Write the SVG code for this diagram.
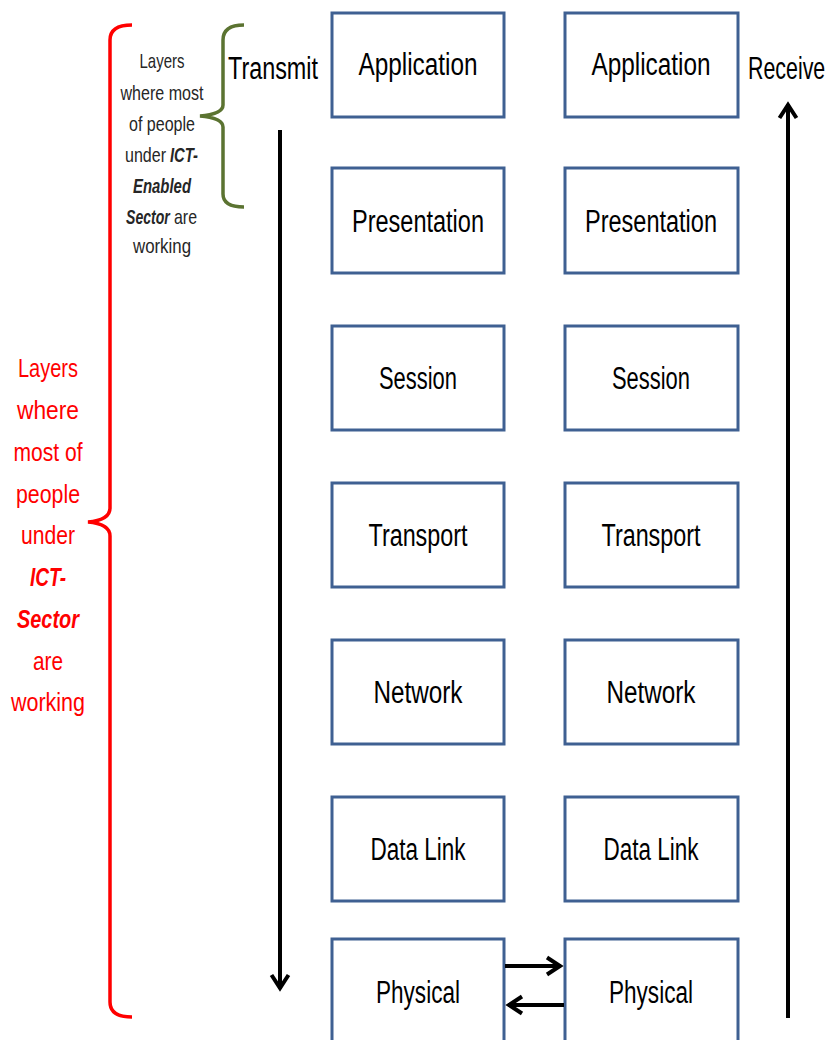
<svg xmlns="http://www.w3.org/2000/svg" width="830" height="1040" viewBox="0 0 830 1040">
<style>
.box{fill:#fff;stroke:#3F6092;stroke-width:3}
.lbl{font-family:"Liberation Sans",Arial,sans-serif;font-size:31px;fill:#000;text-anchor:middle}
.side{font-family:"Liberation Sans",Arial,sans-serif;font-size:31px;fill:#000}
.g{font-family:"Liberation Sans",Arial,sans-serif;font-size:21px;fill:#262626;text-anchor:middle}
.gs{font-family:"Liberation Sans",Arial,sans-serif;font-size:21px;fill:#262626}
.r{font-family:"Liberation Sans",Arial,sans-serif;font-size:25px;fill:#FF0000;text-anchor:middle}
.bi{font-weight:bold;font-style:italic}
.arr{stroke:#000;stroke-width:4;fill:none}
</style>
<defs>
<marker id="ah" markerUnits="userSpaceOnUse" markerWidth="30" markerHeight="30" viewBox="-22 -15 30 30" refX="0" refY="0" orient="auto" overflow="visible">
<path d="M-14,-8.5 L-1,0 L-14,8.5" fill="none" stroke="#000" stroke-width="4" stroke-linejoin="miter"/>
</marker>
</defs>

<g id="brackets">
<path d="M132,25 Q110,25 110,40 L110,508 Q110,520 88,522 Q110,524 110,536 L110,1002 Q110,1017 132,1017" fill="none" stroke="#FF0000" stroke-width="3.5"/>
<path d="M244,25 Q223,25 223,40 L223,105 Q223,114 200,116 Q223,118 223,127 L223,194 Q223,207 244,207" fill="none" stroke="#5B7331" stroke-width="3.5"/>
</g>

<g id="label-ict-enabled">
<text class="g" x="162" y="68" textLength="45" lengthAdjust="spacingAndGlyphs">Layers</text>
<text class="g" x="162" y="100" textLength="83" lengthAdjust="spacingAndGlyphs">where most</text>
<text class="g" x="162" y="131" textLength="66" lengthAdjust="spacingAndGlyphs">of people</text>
<text class="gs" transform="translate(125,162) scale(0.764,1)">under</text>
<text class="gs bi" x="170" y="162" textLength="28" lengthAdjust="spacingAndGlyphs">ICT-</text>
<text class="g bi" x="162" y="193" textLength="58" lengthAdjust="spacingAndGlyphs">Enabled</text>
<text class="gs bi" transform="translate(126,224) scale(0.67,1)">Sector</text>
<text class="gs" x="174" y="224" textLength="23" lengthAdjust="spacingAndGlyphs">are</text>
<text class="g" x="162" y="253" textLength="58" lengthAdjust="spacingAndGlyphs">working</text>
</g>

<g id="label-ict-sector">
<text class="r" x="48" y="377" textLength="60" lengthAdjust="spacingAndGlyphs">Layers</text>
<text class="r" x="48" y="419" textLength="62" lengthAdjust="spacingAndGlyphs">where</text>
<text class="r" x="48" y="461" textLength="69" lengthAdjust="spacingAndGlyphs">most of</text>
<text class="r" x="48" y="503" textLength="64" lengthAdjust="spacingAndGlyphs">people</text>
<text class="r" x="48" y="544" textLength="54" lengthAdjust="spacingAndGlyphs">under</text>
<text class="r bi" x="48" y="586" textLength="36" lengthAdjust="spacingAndGlyphs">ICT-</text>
<text class="r bi" x="48" y="628" textLength="62" lengthAdjust="spacingAndGlyphs">Sector</text>
<text class="r" x="48" y="670" textLength="30" lengthAdjust="spacingAndGlyphs">are</text>
<text class="r" x="48" y="711" textLength="74" lengthAdjust="spacingAndGlyphs">working</text>
</g>

<g id="transmit"><text class="side" x="228" y="79" textLength="90" lengthAdjust="spacingAndGlyphs">Transmit</text></g>
<g id="receive"><text class="side" transform="translate(748,79) scale(0.69,1)">Receive</text></g>

<g id="tx-application"><rect class="box" x="332" y="13" width="172" height="104"/><text class="lbl" x="418" y="75" textLength="119" lengthAdjust="spacingAndGlyphs">Application</text></g>
<g id="tx-presentation"><rect class="box" x="332" y="168" width="172" height="105"/><text class="lbl" x="418" y="232" textLength="132" lengthAdjust="spacingAndGlyphs">Presentation</text></g>
<g id="tx-session"><rect class="box" x="332" y="326" width="172" height="104"/><text class="lbl" x="418" y="389" textLength="78" lengthAdjust="spacingAndGlyphs">Session</text></g>
<g id="tx-transport"><rect class="box" x="332" y="483" width="172" height="104"/><text class="lbl" x="418" y="546" textLength="99" lengthAdjust="spacingAndGlyphs">Transport</text></g>
<g id="tx-network"><rect class="box" x="332" y="640" width="172" height="104"/><text class="lbl" x="418" y="703" textLength="89" lengthAdjust="spacingAndGlyphs">Network</text></g>
<g id="tx-datalink"><rect class="box" x="332" y="797" width="172" height="104"/><text class="lbl" x="418" y="860" textLength="95" lengthAdjust="spacingAndGlyphs">Data Link</text></g>
<g id="tx-physical"><rect class="box" x="332" y="939" width="172" height="110"/><text class="lbl" x="418" y="1003" textLength="84" lengthAdjust="spacingAndGlyphs">Physical</text></g>

<g id="rx-application"><rect class="box" x="565" y="13" width="173" height="104"/><text class="lbl" x="651" y="75" textLength="119" lengthAdjust="spacingAndGlyphs">Application</text></g>
<g id="rx-presentation"><rect class="box" x="565" y="168" width="173" height="105"/><text class="lbl" x="651" y="232" textLength="132" lengthAdjust="spacingAndGlyphs">Presentation</text></g>
<g id="rx-session"><rect class="box" x="565" y="326" width="173" height="104"/><text class="lbl" x="651" y="389" textLength="78" lengthAdjust="spacingAndGlyphs">Session</text></g>
<g id="rx-transport"><rect class="box" x="565" y="483" width="173" height="104"/><text class="lbl" x="651" y="546" textLength="99" lengthAdjust="spacingAndGlyphs">Transport</text></g>
<g id="rx-network"><rect class="box" x="565" y="640" width="173" height="104"/><text class="lbl" x="651" y="703" textLength="89" lengthAdjust="spacingAndGlyphs">Network</text></g>
<g id="rx-datalink"><rect class="box" x="565" y="797" width="173" height="104"/><text class="lbl" x="651" y="860" textLength="95" lengthAdjust="spacingAndGlyphs">Data Link</text></g>
<g id="rx-physical"><rect class="box" x="565" y="939" width="173" height="110"/><text class="lbl" x="651" y="1003" textLength="84" lengthAdjust="spacingAndGlyphs">Physical</text></g>

<g id="connectors">
<line class="arr" x1="280" y1="130" x2="280" y2="989" marker-end="url(#ah)"/>
<line class="arr" x1="788" y1="1018" x2="788" y2="104" marker-end="url(#ah)"/>
<line class="arr" x1="505" y1="966" x2="561" y2="966" stroke-width="4.5" marker-end="url(#ah)"/>
<line class="arr" x1="564" y1="1005" x2="508" y2="1005" stroke-width="4.5" marker-end="url(#ah)"/>
</g>
</svg>
